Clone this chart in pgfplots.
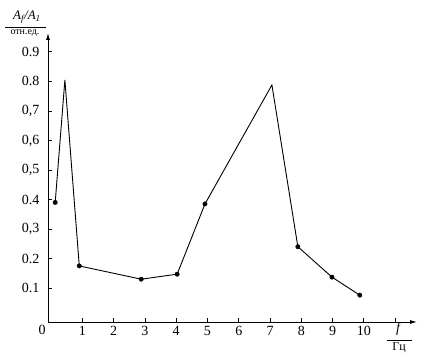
\documentclass[border=0pt]{standalone}
\usepackage{pgfplots}
\pgfplotsset{compat=1.18}
\usetikzlibrary{arrows.meta}
\usepackage{fontspec}
\setmainfont{Liberation Serif}
\begin{document}
\begin{tikzpicture}[x=1pt,y=1pt]
\useasboundingbox (0,0) rectangle (426,364);
\begin{axis}[
  at={(48pt,42pt)}, anchor=south west,
  scale only axis, width=369pt, height=289pt,
  axis lines=left,
  axis line style={line width=0.9pt, -{Latex[length=7pt,width=4pt]}},
  xmin=-0.1, xmax=11.7, ymin=-0.015, ymax=0.964,
  xtick={1,2,3,4,5,6,7,8,9,10,11},
  xticklabels={1,2,3,4,5,6,7,8,9,10,{}},
  ytick={0.1,0.2,0.3,0.4,0.5,0.6,0.7,0.8,0.9},
  yticklabels={0.1,0.2,{0,3},0.4,{0,5},{0,6},{0,7},0.8,0.9},
  tick style={black, line width=0.8pt},
  major tick length=4pt,
  tick align=inside,
  ticklabel style={font=\fontsize{14}{16}\selectfont},
  xticklabel style={yshift=-1pt},
  yticklabel style={xshift=-5pt},
  clip=false,
]
\addplot[black, line width=0.9pt] coordinates {
 (0.13,0.39) (0.44,0.805) (0.9,0.175) (2.88,0.13) (4.03,0.147)
 (4.92,0.385) (7.06,0.788) (7.89,0.24) (8.98,0.137) (9.87,0.076)
};
\addplot[only marks, mark=*, mark size=2.2pt, black] coordinates {
 (0.13,0.39) (0.9,0.175) (2.88,0.13) (4.03,0.147)
 (4.92,0.385) (7.89,0.24) (8.98,0.137) (9.87,0.076)
};
\end{axis}
\node[font=\fontsize{14}{16}\selectfont] at (42,34) {0};
\node[font=\fontsize{14}{16}\selectfont\itshape] at (398,35) {f};
\draw[line width=0.7pt] (387,24) -- (412,24);
\node[font=\fontsize{12}{14}\selectfont] at (399,16) {Гц};
\node[font=\fontsize{13}{15}\selectfont\itshape] at (27,347) {A\textsubscript{f}/A\textsubscript{1}};
\draw[line width=0.7pt] (5,337) -- (46,337);
\node[font=\fontsize{10}{12}\selectfont] at (25,331) {отн.ед.};
\end{tikzpicture}
\end{document}
